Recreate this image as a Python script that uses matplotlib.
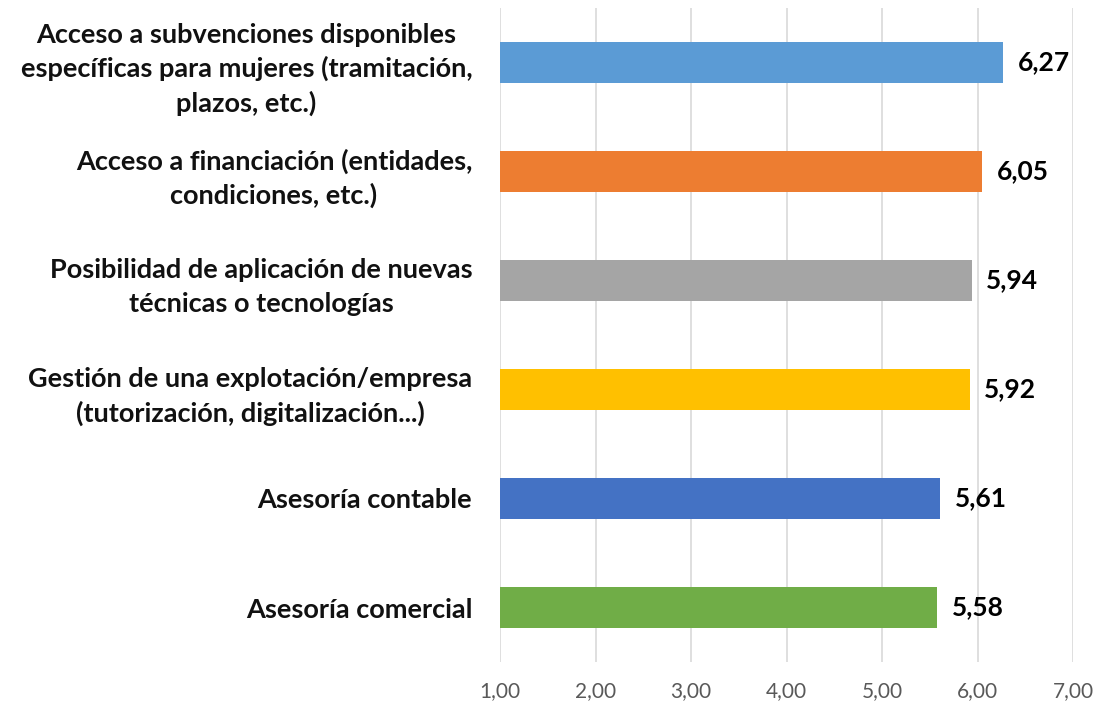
import matplotlib
matplotlib.use("Agg")
import matplotlib.pyplot as plt

categories = [
    "Acceso a subvenciones disponibles\nespecíficas para mujeres (tramitación,\nplazos, etc.)",
    "Acceso a financiación (entidades,\ncondiciones, etc.)",
    "Posibilidad de aplicación de nuevas\ntécnicas o tecnologías",
    "Gestión de una explotación/empresa\n(tutorización, digitalización...)",
    "Asesoría contable",
    "Asesoría comercial",
]
values = [6.27, 6.05, 5.94, 5.92, 5.61, 5.58]
colors = ["#5B9BD5", "#ED7D31", "#A5A5A5", "#FFC000", "#4472C4", "#70AD47"]
xticks = [1, 2, 3, 4, 5, 6, 7]

plt.rcParams['font.family'] = ['Lato', 'DejaVu Sans']

fig = plt.figure(figsize=(11.01, 7.06), dpi=100)
ax = fig.add_axes([500/1101, 1-662/706, (1073-500)/1101, (662-8)/706])

ypos = list(range(len(categories)))
ax.barh(ypos, [v - 1 for v in values], left=1, height=0.37, color=colors, zorder=3)
ax.set_ylim(len(categories) - 0.5, -0.5)
ax.set_xlim(1, 7)
ax.set_xticks(xticks)
ax.set_xticklabels([f"{t:.2f}".replace(".", ",") for t in xticks], fontsize=15, color="#595959")
ax.set_yticks(ypos)
ax.set_yticklabels(categories, fontsize=19.5, fontweight="bold", color="#111111",
                   multialignment="center", linespacing=1.45)
ax.tick_params(axis="both", length=0)
ax.tick_params(axis="y", pad=20)
ax.tick_params(axis="x", pad=14)
ax.grid(axis="x", color="#D9D9D9", linewidth=1.2, zorder=0)
for s in ax.spines.values():
    s.set_visible(False)

for y, v in zip(ypos, values):
    ax.text(v + 0.15, y, f"{v:.2f}".replace(".", ","), va="center", ha="left",
            fontsize=19, fontweight="bold", color="black", zorder=4)

fig.savefig("out.png", dpi=100)
